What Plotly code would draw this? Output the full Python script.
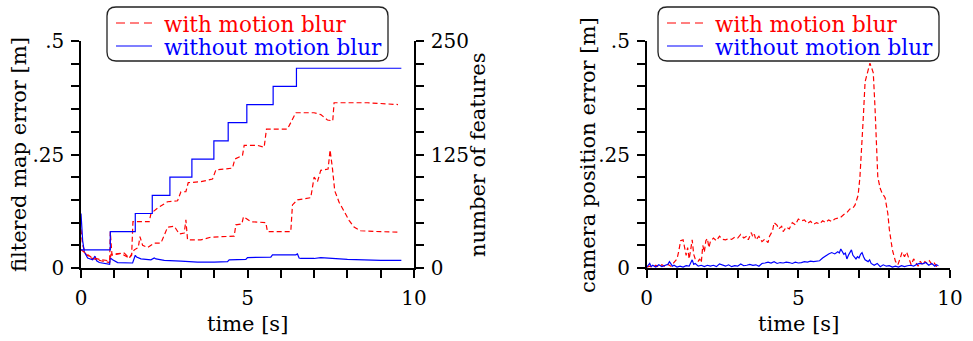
import plotly.graph_objects as go

# ---------------- data ----------------
# left panel: number of features (right axis)
feat_blue_t = [0, 0.88, 1.63, 2.14, 2.67, 3.33, 3.99, 4.42, 4.98, 5.77, 6.47, 9.62]
feat_blue_n = [20, 40, 60, 80, 100, 120, 140, 160, 180, 200, 220, 220]

feat_red_t = [0, 0.3, 0.6, 0.86, 0.88, 0.93, 1.2, 1.45, 1.52, 1.56, 2.05, 2.1, 2.3, 2.45,
              2.6, 2.9, 3.0, 3.15, 3.22, 3.6, 3.95, 4.05, 4.55, 4.62, 4.85, 4.9, 5.3, 5.5,
              5.57, 6.2, 6.3, 6.45, 7.0, 7.2, 7.4, 7.56, 7.6, 8.6, 9.52]
feat_red_n = [20, 12, 9, 8, 40, 14, 16, 11, 14, 51, 51, 60, 66, 70,
              73, 74, 84, 84, 94, 95, 98, 108, 110, 120, 124, 135, 135, 133,
              153, 153, 160, 171, 171, 169, 163, 162, 182, 182, 180]

# left panel: filtered map error (left axis)
map_red_t = [0, 0.05, 0.15, 0.3, 0.6, 0.86, 0.9, 1.3, 1.45, 1.6, 1.72, 1.77, 1.85, 2.0,
             2.2, 2.4, 2.5, 2.6, 2.8, 2.95, 3.1, 3.15, 3.2, 3.6, 3.9, 4.5, 4.6, 4.65,
             4.83, 4.88, 5.1, 5.55, 5.6, 6.2, 6.3, 6.35, 6.5, 6.9, 7.0, 7.1, 7.2, 7.42,
             7.48, 7.55, 7.62, 7.75, 7.9, 8.05, 8.2, 8.4, 9.0, 9.52]
map_red_e = [0.085, 0.05, 0.03, 0.022, 0.016, 0.012, 0.03, 0.033, 0.022, 0.04, 0.045, 0.069,
             0.05, 0.045, 0.055, 0.055, 0.072, 0.09, 0.092, 0.075, 0.077, 0.106, 0.062,
             0.062, 0.068, 0.069, 0.07, 0.095, 0.097, 0.113, 0.102, 0.100, 0.08, 0.08,
             0.08, 0.139, 0.15, 0.155, 0.2, 0.19, 0.215, 0.218, 0.26, 0.22, 0.17, 0.145,
             0.125, 0.105, 0.09, 0.082, 0.08, 0.079]

map_blue_t = [0, 0.05, 0.1, 0.2, 0.35, 0.42, 0.47, 0.55, 0.86, 0.88, 0.95, 1.1, 1.55, 1.63,
              1.67, 1.8, 2.1, 2.2, 2.25, 2.5, 3.0, 3.5, 4.0, 4.4, 4.45, 4.95, 5.0, 5.7,
              5.75, 6.45, 6.5, 6.55, 6.6, 7.0, 7.2, 8.0, 9.0, 9.62]
map_blue_e = [0.12, 0.06, 0.035, 0.022, 0.018, 0.026, 0.016, 0.012, 0.008, 0.022, 0.018,
              0.012, 0.011, 0.028, 0.024, 0.02, 0.018, 0.022, 0.02, 0.017, 0.015, 0.013,
              0.013, 0.014, 0.018, 0.019, 0.023, 0.024, 0.029, 0.029, 0.031, 0.022, 0.021,
              0.021, 0.023, 0.019, 0.017, 0.017]

# right panel: camera position error
cam_red_t = [0.0, 0.1, 0.2, 0.3, 0.4, 0.5, 0.6, 0.7, 0.8, 0.9, 1.0, 1.05, 1.12, 1.2, 1.25,
             1.3, 1.35, 1.4, 1.45, 1.5, 1.55, 1.6, 1.7, 1.75, 1.8, 1.85, 1.9, 1.95, 2.0,
             2.05, 2.1, 2.2, 2.3, 2.4, 2.5, 2.6, 2.7, 2.8, 2.9, 3.0, 3.1, 3.2, 3.3, 3.35,
             3.45, 3.5, 3.55, 3.6, 3.7, 3.8, 3.9, 4.0, 4.05, 4.15, 4.2, 4.3, 4.35, 4.45,
             4.5, 4.6, 4.7, 4.8, 4.9, 5.0, 5.1, 5.2, 5.3, 5.4, 5.5, 5.6, 5.7, 5.8, 5.9,
             6.0, 6.1, 6.2, 6.3, 6.4, 6.5, 6.6, 6.7, 6.8, 6.87, 6.97, 7.03, 7.08, 7.14,
             7.2, 7.27, 7.36, 7.42, 7.47, 7.53, 7.58, 7.62, 7.7, 7.76, 7.86, 7.95, 8.0,
             8.05, 8.1, 8.2, 8.28, 8.35, 8.42, 8.5, 8.57, 8.65, 8.72, 8.8, 8.88, 8.95,
             9.02, 9.1, 9.17, 9.25, 9.32, 9.4, 9.47, 9.55, 9.6]
cam_red_e = [0.002, 0.004, 0.001, 0.006, 0.002, 0.007, 0.003, 0.008, 0.004, 0.012, 0.02,
             0.035, 0.06, 0.062, 0.04, 0.028, 0.045, 0.02, 0.04, 0.062, 0.03, 0.02, 0.015,
             0.02, 0.012, 0.05, 0.035, 0.06, 0.065, 0.045, 0.058, 0.066, 0.06, 0.07, 0.063,
             0.062, 0.065, 0.063, 0.068, 0.066, 0.074, 0.066, 0.07, 0.062, 0.078, 0.068,
             0.074, 0.062, 0.07, 0.058, 0.064, 0.056, 0.07, 0.082, 0.1, 0.094, 0.086,
             0.092, 0.08, 0.09, 0.086, 0.1, 0.095, 0.108, 0.104, 0.106, 0.098, 0.103,
             0.096, 0.1, 0.097, 0.104, 0.1, 0.106, 0.102, 0.108, 0.11, 0.112, 0.118,
             0.122, 0.13, 0.132, 0.139, 0.16, 0.2, 0.25, 0.33, 0.41, 0.43, 0.451, 0.44,
             0.43, 0.35, 0.28, 0.2, 0.175, 0.165, 0.155, 0.12, 0.085, 0.06, 0.04, 0.015,
             0.007, 0.02, 0.035, 0.025, 0.035, 0.02, 0.007, 0.02, 0.012, 0.004, 0.015,
             0.006, 0.014, 0.01, 0.016, 0.008, 0.012, 0.004, 0.002]

cam_blue_t = [0.0, 0.1, 0.15, 0.2, 0.3, 0.4, 0.5, 0.6, 0.7, 0.75, 0.8, 0.85, 0.9, 1.0,
              1.1, 1.2, 1.3, 1.4, 1.5, 1.55, 1.6, 1.7, 1.8, 1.9, 2.0, 2.1, 2.2, 2.3, 2.4,
              2.5, 2.6, 2.7, 2.8, 2.9, 3.0, 3.1, 3.2, 3.3, 3.4, 3.5, 3.6, 3.7, 3.8, 3.9,
              4.0, 4.1, 4.2, 4.3, 4.4, 4.5, 4.6, 4.7, 4.8, 4.9, 5.0, 5.1, 5.2, 5.3, 5.4,
              5.5, 5.6, 5.7, 5.8, 5.9, 6.0, 6.1, 6.2, 6.3, 6.35, 6.4, 6.45, 6.5, 6.55,
              6.6, 6.65, 6.7, 6.75, 6.8, 6.9, 6.95, 7.0, 7.05, 7.1, 7.15, 7.2, 7.3, 7.35,
              7.4, 7.5, 7.6, 7.7, 7.8, 7.9, 8.0, 8.1, 8.2, 8.3, 8.4, 8.5, 8.6, 8.7, 8.8,
              8.9, 9.0, 9.1, 9.2, 9.3, 9.4, 9.5, 9.55, 9.62]
cam_blue_e = [0.002, 0.01, 0.003, 0.006, 0.002, 0.007, 0.003, 0.005, 0.008, 0.014, 0.01,
              0.004, 0.006, 0.002, 0.004, 0.002, 0.005, 0.004, 0.018, 0.008, 0.01, 0.004,
              0.006, 0.003, 0.006, 0.004, 0.006, 0.003, 0.009, 0.006, 0.004, 0.007, 0.003,
              0.005, 0.004, 0.009, 0.005, 0.006, 0.008, 0.006, 0.007, 0.004, 0.01, 0.011,
              0.013, 0.011, 0.014, 0.01, 0.012, 0.011, 0.013, 0.012, 0.01, 0.013, 0.011,
              0.012, 0.014, 0.013, 0.015, 0.014, 0.015, 0.016, 0.022, 0.027, 0.031, 0.034,
              0.031, 0.036, 0.033, 0.042, 0.035, 0.03, 0.033, 0.02, 0.028, 0.035, 0.04,
              0.028, 0.02, 0.025, 0.022, 0.03, 0.034, 0.025, 0.018, 0.014, 0.018, 0.01,
              0.006, 0.01, 0.003, 0.007, 0.004, 0.005, 0.002, 0.004, 0.002, 0.005, 0.003,
              0.005, 0.006, 0.004, 0.008, 0.01, 0.009, 0.012, 0.006, 0.01, 0.004, 0.007,
              0.005]

legend_names = ["with motion blur", "without motion blur"]
x_ticks = [0, 1, 2, 3, 4, 5, 6, 7, 8, 9, 10]
x_ticktext = ["0", "", "", "", "", "5", "", "", "", "", "10"]
err_ticks = [0, 0.05, 0.1, 0.15, 0.2, 0.25, 0.3, 0.35, 0.4, 0.45, 0.5]
err_ticktext = ["0", "", "", "", "", ".25", "", "", "", "", ".5"]
feat_ticks = [0, 25, 50, 75, 100, 125, 150, 175, 200, 225, 250]
feat_ticktext = ["0", "", "", "", "", "125", "", "", "", "", "250"]

# ---------------- style ----------------
W, H = 973, 341
RED = "#ff0000"
BLUE = "#0000ff"
FONT = "DejaVu Serif"
FS = 20
DASH = "5px,3px"


def px(x):
    return x / W


def py(y):
    return 1 - y / H


fig = go.Figure()

# left panel
fig.add_trace(go.Scatter(x=feat_red_t, y=feat_red_n, mode="lines", xaxis="x", yaxis="y2",
                         line=dict(color=RED, width=1.2, dash=DASH), showlegend=False))
fig.add_trace(go.Scatter(x=feat_blue_t, y=feat_blue_n, mode="lines", xaxis="x", yaxis="y2",
                         line=dict(color=BLUE, width=1.2, shape="hv"), showlegend=False))
fig.add_trace(go.Scatter(x=map_red_t, y=map_red_e, mode="lines", xaxis="x", yaxis="y",
                         line=dict(color=RED, width=1.2, dash=DASH),
                         name=legend_names[0], showlegend=False))
fig.add_trace(go.Scatter(x=map_blue_t, y=map_blue_e, mode="lines", xaxis="x", yaxis="y",
                         line=dict(color=BLUE, width=1.2),
                         name=legend_names[1], showlegend=False))

# right panel
fig.add_trace(go.Scatter(x=cam_red_t, y=cam_red_e, mode="lines", xaxis="x2", yaxis="y3",
                         line=dict(color=RED, width=1.2, dash=DASH),
                         name=legend_names[0], showlegend=False))
fig.add_trace(go.Scatter(x=cam_blue_t, y=cam_blue_e, mode="lines", xaxis="x2", yaxis="y3",
                         line=dict(color=BLUE, width=1.2),
                         name=legend_names[1], showlegend=False))

tickfont = dict(family=FONT, size=FS, color="black")


def axis(**kw):
    d = dict(showline=True, linecolor="black", linewidth=1.5, ticks="outside", ticklen=8,
             tickwidth=1.5, tickcolor="black", showgrid=False, zeroline=False,
             tickfont=tickfont, tickmode="array", ticklabelstandoff=3, automargin=False)
    d.update(kw)
    return d


yb = [py(268), py(41)]
fig.update_layout(
    width=W, height=H, margin=dict(l=0, r=0, t=0, b=0, autoexpand=False),
    paper_bgcolor="white", plot_bgcolor="rgba(0,0,0,0)", showlegend=False,
    xaxis=axis(domain=[px(81), px(414)], range=[0, 10], tickvals=x_ticks,
               ticktext=x_ticktext, anchor="y"),
    yaxis=axis(domain=yb, range=[0, 0.5], tickvals=err_ticks, ticktext=err_ticktext,
               anchor="x"),
    yaxis2=axis(range=[0, 250], tickvals=feat_ticks, ticktext=feat_ticktext,
                overlaying="y", side="right", anchor="x"),
    xaxis2=axis(domain=[px(646.7), px(950)], range=[0, 10], tickvals=x_ticks,
                ticktext=x_ticktext, anchor="y3"),
    yaxis3=axis(domain=yb, range=[0, 0.5], tickvals=err_ticks, ticktext=err_ticktext,
                anchor="x2"),
)


def rounded(x0, y0, x1, y1, r=9):
    rx, ry = r / W, r / H
    X0, X1 = px(x0), px(x1)
    Y0, Y1 = py(y0), py(y1)  # Y0 top (higher), Y1 bottom
    return (f"M {X0+rx},{Y0} L {X1-rx},{Y0} Q {X1},{Y0} {X1},{Y0-ry} "
            f"L {X1},{Y1+ry} Q {X1},{Y1} {X1-rx},{Y1} L {X0+rx},{Y1} "
            f"Q {X0},{Y1} {X0},{Y1+ry} L {X0},{Y0-ry} Q {X0},{Y0} {X0+rx},{Y0} Z")


LFS = 21.5

# legend boxes (rounded frames with line samples and coloured labels)
for bx in [107, 658]:
    fig.add_shape(type="path", path=rounded(bx, 7, bx + 281, 61), xref="paper",
                  yref="paper", line=dict(color="#222222", width=1.3), fillcolor="white",
                  layer="below")
    rows = [(legend_names[0], RED, "9px,5px", 23), (legend_names[1], BLUE, "solid", 46)]
    for name, col, dash, yy in rows:
        fig.add_shape(type="line", x0=px(bx + 9), x1=px(bx + 45), y0=py(yy), y1=py(yy),
                      xref="paper", yref="paper", layer="below",
                      line=dict(color=col, width=1.2, dash=dash))
        fig.add_annotation(text=name, x=px(bx + 55), y=py(yy + 1.5), xref="paper",
                           yref="paper", showarrow=False, xanchor="left",
                           yanchor="middle",
                           font=dict(family=FONT, size=LFS, color=col))

titles = [
    ("filtered map error [m]", 19, 155, -90),
    ("number of features", 478, 155, -90),
    ("camera position error [m]", 588, 155, -90),
    ("time [s]", 247.5, 324, 0),
    ("time [s]", 798, 324, 0),
]
for txt, x, y, ang in titles:
    fig.add_annotation(text=txt, x=px(x), y=py(y), xref="paper", yref="paper",
                       showarrow=False, textangle=ang,
                       font=dict(family=FONT, size=21, color="black"),
                       xanchor="center", yanchor="middle")

fig.write_html("out.html", config={"displayModeBar": False},
               post_script="document.body.style.margin='0px';")
